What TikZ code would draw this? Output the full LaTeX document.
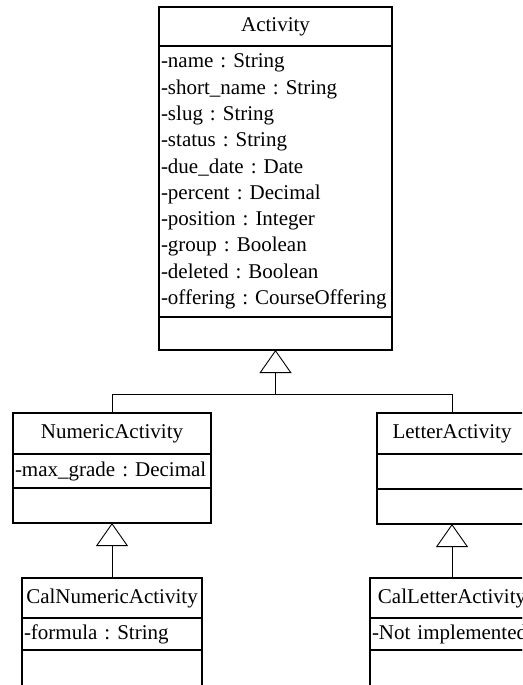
\documentclass[tikz,border=0pt]{standalone}
\usepackage{fontspec}
\setmainfont{Liberation Serif}
\usetikzlibrary{positioning,arrows.meta}

\tikzset{
  classbox/.style={draw, line width=1.6pt, outer sep=0pt, inner xsep=2pt, inner ysep=0pt},
  headbox/.style={classbox, minimum width=#1, align=center},
  attrbox/.style={classbox, text width=#1, align=left},
  inherit/.style={line width=0.9pt, -{Triangle[open, length=23pt, width=32pt, fill=white]}},
  plainlink/.style={line width=0.9pt}
}

\begin{document}
\frenchspacing
\begin{tikzpicture}[x=1pt, y=-1pt, font=\fontsize{21}{26.3}\selectfont]
\useasboundingbox (0,0) rectangle (522,685);
\clip (0,0) rectangle (522,685);

% Activity
\node[headbox=233, minimum height=39] (act) at (275.5,26.5) {Activity};
\node[attrbox=229, minimum height=271, below=0pt of act] (actA)
  {-name : String\\
   -short\_name : String\\
   -slug : String\\
   -status : String\\
   -due\_date : Date\\
   -percent : Decimal\\
   -position : Integer\\
   -group : Boolean\\
   -deleted : Boolean\\
   -offering : CourseOffering};
\node[headbox=233, minimum height=33, below=0pt of actA] (actO) {};

% NumericActivity
\node[headbox=198, minimum height=41] (num) at (112,433.5) {NumericActivity};
\node[attrbox=194, minimum height=34, below=0pt of num] (numA) {-max\_grade : Decimal};
\node[headbox=198, minimum height=35, below=0pt of numA] (numO) {};

% LetterActivity
\node[headbox=150, minimum height=41] (let) at (452,433.5) {LetterActivity};
\node[headbox=150, minimum height=35, below=0pt of let] (letA) {};
\node[headbox=150, minimum height=35, below=0pt of letA] (letO) {};

% CalNumericActivity
\node[headbox=180, minimum height=40] (cnum) at (112,598) {CalNumericActivity};
\node[attrbox=176, minimum height=32, below=0pt of cnum] (cnumA) {-formula : String};
\node[headbox=180, minimum height=40, below=0pt of cnumA] (cnumO) {};

% CalLetterActivity
\node[headbox=164, minimum height=40] (clet) at (452,598) {CalLetterActivity};
\node[attrbox=160, minimum height=32, below=0pt of clet] (cletA) {-Not implemented};
\node[headbox=164, minimum height=40, below=0pt of cletA] (cletO) {};

% generalisation
\coordinate (bar) at (275.5,394);
\draw[plainlink] (num.north) |- (bar);
\draw[plainlink] (let.north) |- (bar);
\draw[inherit] (bar) -- (actO.south);
\draw[inherit] (cnum.north) -- (numO.south);
\draw[inherit] (clet.north) -- (letO.south);

\end{tikzpicture}
\end{document}
